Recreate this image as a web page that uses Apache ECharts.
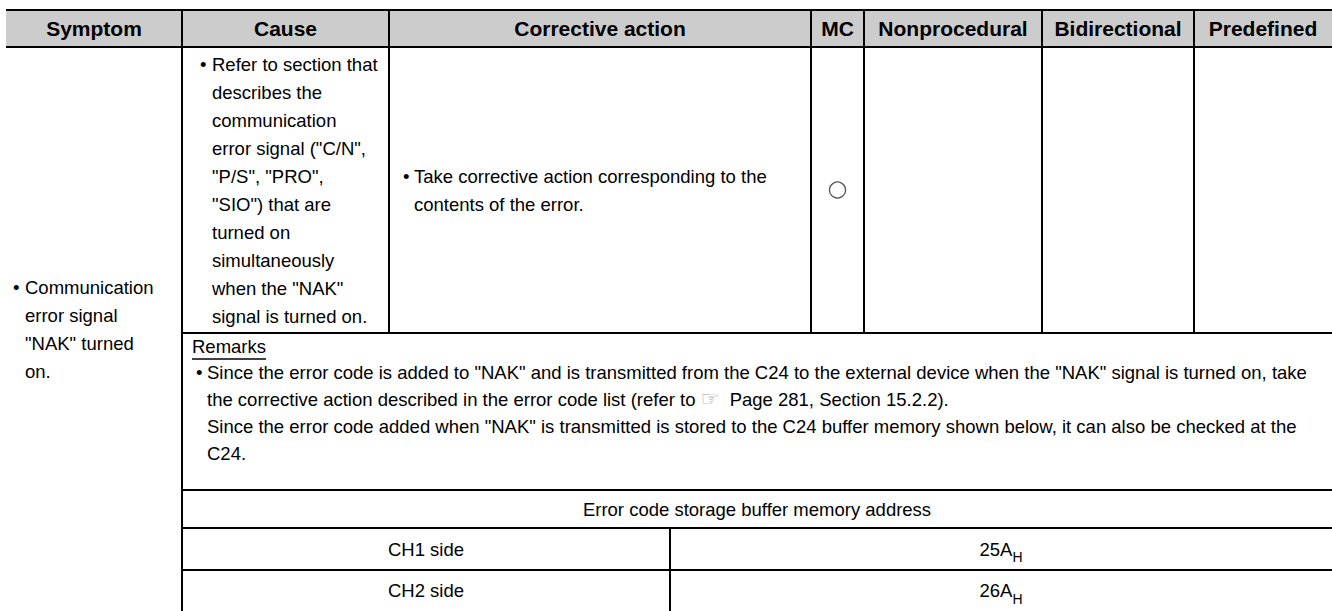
<!DOCTYPE html>
<html><head><meta charset="utf-8">
<script src="https://cdn.jsdelivr.net/npm/echarts@6/dist/echarts.min.js"></script>
<style>html,body{margin:0;padding:0;background:#fff}#c{width:1332px;height:611px}</style>
</head><body><div id="c"></div>
<script>
// ---------------- data (text content of the table) ----------------
const headers = ['Symptom', 'Cause', 'Corrective action', 'MC', 'Nonprocedural', 'Bidirectional', 'Predefined'];
const symptomLines = ['Communication', 'error signal', '"NAK" turned', 'on.'];
const causeLines = ['Refer to section that', 'describes the', 'communication', 'error signal ("C/N",',
  '"P/S", "PRO",', '"SIO") that are', 'turned on', 'simultaneously', 'when the "NAK"', 'signal is turned on.'];
const actionLines = ['Take corrective action corresponding to the', 'contents of the error.'];
const support = ['○', '', '', ''];   // MC, Nonprocedural, Bidirectional, Predefined
const remarksTitle = 'Remarks';
const remarksLines = [
  'Since the error code is added to "NAK" and is transmitted from the C24 to the external device when the "NAK" signal is turned on, take',
  ['the corrective action described in the error code list (refer to ', '☞', '  Page 281, Section 15.2.2).'],
  'Since the error code added when "NAK" is transmitted is stored to the C24 buffer memory shown below, it can also be checked at the',
  'C24.'
];
const bufferTitle = 'Error code storage buffer memory address';
const bufferSides = ['CH1 side', 'CH2 side'];
const bufferAddr = ['25A', '26A'];
const bufferSuffix = ['H', 'H'];

// ---------------- layout / style ----------------
const W = 1332, H = 611;
const LAY = {
  colX: [6, 182, 389, 811, 864, 1042, 1194, 1332],
  headTop: 10, headBot: 47,
  row1Bot: 333,
  bufLines: [490, 528, 570], bottom: 611, bufSplit: 670,
  pitch: 28,
  causeTop: 64, causeBullet: 200, causeText: 212,
  actBullet: 403, actText: 414,
  symBullet: 13, symText: 25,
  remX: 192, remY: 346, remBullet: 196, remText: 207, remTop: 372, remPitch: 27
};
const FONT = '"Liberation Sans", Arial, Helvetica, sans-serif';
const BODY_SIZE = 18.5, HEAD_SIZE = 21;
const INK = '#000000', HEAD_BG = '#cccccc';

function measure(str, font) {
  const ctx = document.createElement('canvas').getContext('2d');
  ctx.font = font; return ctx.measureText(str).width;
}

function renderTable(params, api) {
  const P = (x, y) => api.coord([x, y]);
  const ch = [];
  const line = (x0, y0, x1, y1, w) => {
    const a = P(x0, y0), b = P(x1, y1);
    ch.push({ type: 'line', shape: { x1: a[0], y1: a[1], x2: b[0], y2: b[1] }, style: { stroke: INK, lineWidth: w || 2 } });
  };
  const text = (str, x, y, o) => {
    o = o || {};
    const p = P(x, y);
    ch.push({ type: 'text', x: p[0], y: p[1], style: Object.assign({
      text: str, fill: INK, fontFamily: FONT, fontSize: BODY_SIZE,
      align: 'left', verticalAlign: 'middle' }, o) });
  };
  const c = LAY.colX;
  // header band
  const h0 = P(c[0], LAY.headTop), h1 = P(c[c.length - 1], LAY.headBot);
  ch.push({ type: 'rect', shape: { x: h0[0], y: h0[1], width: h1[0] - h0[0], height: h1[1] - h0[1] }, style: { fill: HEAD_BG } });
  headers.forEach((hd, i) => text(hd, (c[i] + c[i + 1]) / 2, (LAY.headTop + LAY.headBot) / 2,
    { align: 'center', fontWeight: 'bold', fontSize: HEAD_SIZE }));
  // horizontal rules
  line(c[0], LAY.headTop, c[c.length - 1], LAY.headTop);
  line(c[0], LAY.headBot, c[c.length - 1], LAY.headBot);
  line(c[1], LAY.row1Bot, c[c.length - 1], LAY.row1Bot);
  LAY.bufLines.forEach(y => line(c[1], y, c[c.length - 1], y));
  // vertical rules
  for (let i = 1; i < c.length - 1; i++) line(c[i], LAY.headTop, c[i], LAY.headBot);
  line(c[1], LAY.headBot, c[1], LAY.bottom);
  for (let i = 2; i < c.length - 1; i++) line(c[i], LAY.headBot, c[i], LAY.row1Bot);
  line(LAY.bufSplit, LAY.bufLines[1], LAY.bufSplit, LAY.bottom);
  // symptom (vertically centred in the body)
  const symMid = (LAY.headBot + LAY.bottom) / 2;
  const symTop = symMid - (symptomLines.length - 1) * LAY.pitch / 2;
  text('•', LAY.symBullet, symTop);
  symptomLines.forEach((s, i) => text(s, LAY.symText, symTop + i * LAY.pitch));
  // cause
  text('•', LAY.causeBullet, LAY.causeTop);
  causeLines.forEach((s, i) => text(s, LAY.causeText, LAY.causeTop + i * LAY.pitch));
  // corrective action (vertically centred in row 1)
  const r1Mid = (LAY.headBot + LAY.row1Bot) / 2;
  const actTop = r1Mid - (actionLines.length - 1) * LAY.pitch / 2;
  text('•', LAY.actBullet, actTop);
  actionLines.forEach((s, i) => text(s, LAY.actText, actTop + i * LAY.pitch));
  // remarks
  text(remarksTitle, LAY.remX, LAY.remY);
  const uw = measure(remarksTitle, BODY_SIZE + 'px ' + FONT);
  line(LAY.remX, LAY.remY + 13, LAY.remX + uw, LAY.remY + 13, 1.5);
  text('•', LAY.remBullet, LAY.remTop);
  remarksLines.forEach((s, i) => {
    const y = LAY.remTop + i * LAY.remPitch;
    if (Array.isArray(s)) {
      text('{t|' + s[0] + '}{i|' + s[1] + '}{t|' + s[2] + '}', LAY.remText, y, {
        rich: { t: { fontFamily: FONT, fontSize: BODY_SIZE, fill: INK },
                i: { fontFamily: '"DejaVu Sans", sans-serif', fontSize: 21, fill: '#a0a0a0' } } });
    } else text(s, LAY.remText, y);
  });
  // buffer memory sub-table
  const bl = LAY.bufLines;
  text(bufferTitle, (c[1] + c[c.length - 1]) / 2, (bl[0] + bl[1]) / 2, { align: 'center' });
  const rowsY = [bl[1], bl[2], LAY.bottom];
  bufferSides.forEach((s, i) => {
    const y = (rowsY[i] + rowsY[i + 1]) / 2;
    text(s, (c[1] + LAY.bufSplit) / 2, y, { align: 'center' });
    text('{a|' + bufferAddr[i] + '}{s|' + bufferSuffix[i] + '}', (LAY.bufSplit + c[c.length - 1]) / 2, y, {
      align: 'center',
      rich: { a: { fontFamily: FONT, fontSize: BODY_SIZE, lineHeight: 30, fill: INK, verticalAlign: 'middle' },
              s: { fontFamily: FONT, fontSize: 14, lineHeight: 14, fill: INK, verticalAlign: 'bottom' } } });
  });
  return { type: 'group', children: ch };
}

// support marks (○) placed at column centres of row 1
const markData = [];
support.forEach((m, i) => {
  if (m) markData.push([(LAY.colX[3 + i] + LAY.colX[4 + i]) / 2, (LAY.headBot + LAY.row1Bot) / 2]);
});

const chart = echarts.init(document.getElementById('c'), null, { renderer: 'svg', width: W, height: H });
chart.setOption({
  animation: false,
  backgroundColor: '#ffffff',
  grid: { left: 0, right: 0, top: 0, bottom: 0, containLabel: false },
  xAxis: { type: 'value', min: 0, max: W, show: false },
  yAxis: { type: 'value', min: 0, max: H, inverse: true, show: false },
  series: [
    { type: 'custom', name: 'table', renderItem: renderTable, data: [[0, 0]], silent: true, clip: false, z: 1 },
    { type: 'scatter', name: 'MC', data: markData, symbol: 'circle', symbolSize: 16, z: 5,
      itemStyle: { color: 'rgba(255,255,255,0)', borderColor: '#555555', borderWidth: 1.3, opacity: 1 }, silent: true }
  ]
});
</script>
</body></html>
